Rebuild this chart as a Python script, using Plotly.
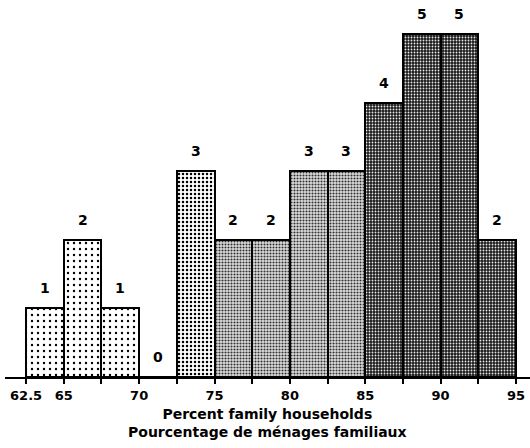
import plotly.graph_objects as go

bin_starts = [62.5, 65, 67.5, 70, 72.5, 75, 77.5, 80, 82.5, 85, 87.5, 90, 92.5]
counts = [1, 2, 1, 0, 3, 2, 2, 3, 3, 4, 5, 5, 2]
bin_width = 2.5
groups = ["a", "a", "a", "a", "b", "c", "c", "c", "c", "d", "d", "d", "d"]
tick_vals = [62.5, 65, 67.5, 70, 72.5, 75, 77.5, 80, 82.5, 85, 87.5, 90, 92.5, 95]
tick_text = ["62.5", "65", "", "70", "", "75", "", "80", "", "85", "", "90", "", "95"]
x_title = "Percent family households<br>Pourcentage de ménages familiaux"

styles = {
    "a": dict(bg="white", fg="black", size=6, solidity=0.12),
    "b": dict(bg="white", fg="black", size=4, solidity=0.3),
    "c": dict(bg="#e0e0e0", fg="#303030", size=3, solidity=0.4),
    "d": dict(bg="#1a1a1a", fg="#e8e8e8", size=3, solidity=0.3),
}

fig = go.Figure()
for g, st in styles.items():
    xs = [s + bin_width / 2 for s, gg in zip(bin_starts, groups) if gg == g]
    ys = [c for c, gg in zip(counts, groups) if gg == g]
    fig.add_trace(go.Bar(
        x=xs, y=ys, width=bin_width,
        marker=dict(
            color=st["bg"],
            line=dict(color="black", width=2),
            pattern=dict(shape=".", fgcolor=st["fg"], bgcolor=st["bg"],
                         size=st["size"], solidity=st["solidity"], fillmode="replace"),
        ),
        showlegend=False, hoverinfo="skip",
    ))

for s, c in zip(bin_starts, counts):
    fig.add_annotation(x=s + bin_width / 2, y=c, text=str(c), showarrow=False,
                       yanchor="bottom", yshift=10,
                       font=dict(family="DejaVu Sans", size=14, color="black", weight="bold"))

fig.add_annotation(x=0.5, xref="paper", y=0, yref="paper", yshift=-27, text=x_title,
                   showarrow=False, yanchor="top",
                   font=dict(family="DejaVu Sans", size=14, color="black", weight="bold"))

fig.update_layout(
    width=530, height=448,
    margin=dict(l=5, r=0, t=0, b=71),
    plot_bgcolor="white", paper_bgcolor="white",
    bargap=0,
    xaxis=dict(range=[61.1, 95.93], tickvals=tick_vals, ticktext=tick_text,
               ticks="outside", ticklen=5, tickwidth=1.5, tickcolor="black",
               showline=True, linecolor="black", linewidth=2, showgrid=False,
               zeroline=False, automargin=False,
               tickfont=dict(family="DejaVu Sans", size=13, color="black", weight="bold")),
    yaxis=dict(range=[0, 5.5], visible=False, showgrid=False, zeroline=False),
)

fig.write_html("out.html", config={"displayModeBar": False},
               post_script="document.body.style.margin='0';")
